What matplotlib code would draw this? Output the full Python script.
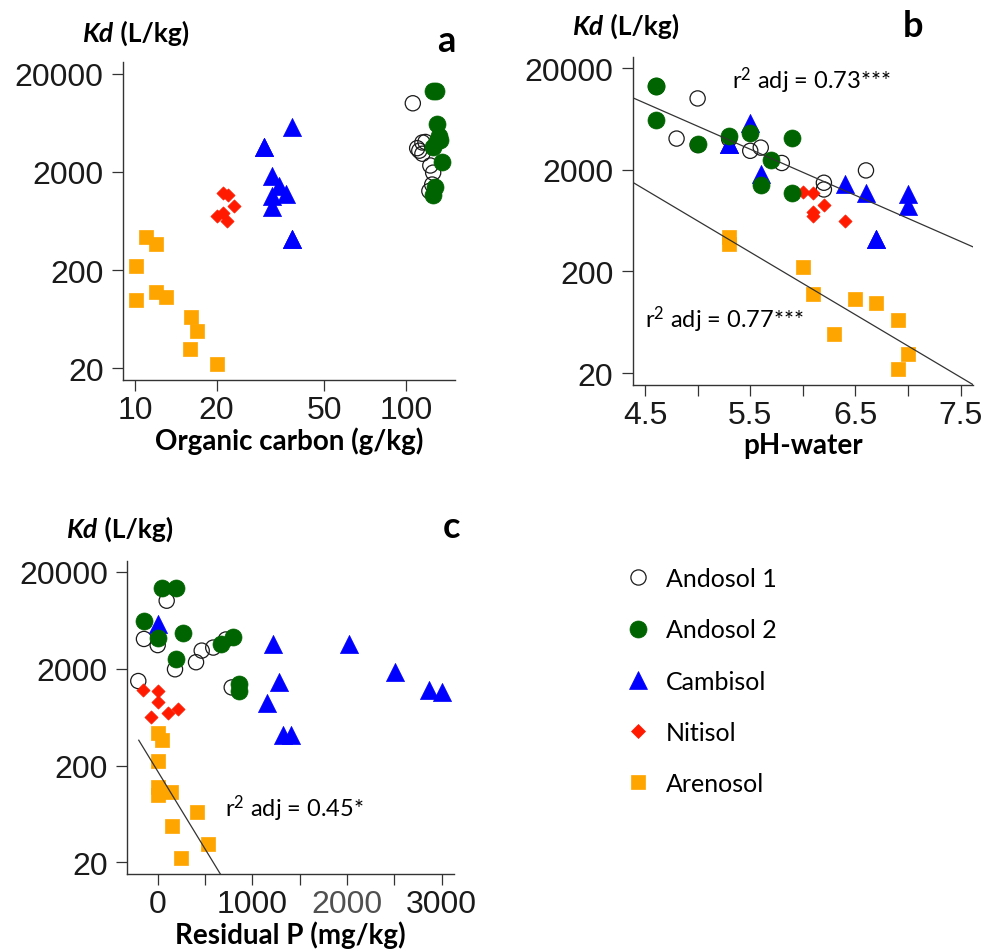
import numpy as np
import matplotlib
matplotlib.use("Agg")
import matplotlib.pyplot as plt
from matplotlib.lines import Line2D

plt.rcParams["font.family"] = ["Lato", "DejaVu Sans"]
plt.rcParams["mathtext.fontset"] = "custom"
plt.rcParams["mathtext.rm"] = "Lato"
plt.rcParams["mathtext.it"] = "Lato:italic"
plt.rcParams["mathtext.bf"] = "Lato:bold"

# --- data ---------------------------------------------------------------
soils = ["Andosol 1", "Andosol 2", "Cambisol", "Nitisol", "Arenosol"]

kd_and1 = [10050, 4050, 4000, 3500, 3300, 3070, 2330, 1970, 1490, 1280]
oc_and1 = [106, 118, 115, 110, 112, 115, 123, 126, 125, 122]
ph_and1 = [5.0, 4.8, 5.3, 5.0, 5.6, 5.5, 5.8, 6.6, 6.2, 6.2]
rp_and1 = [95, -145, 721, 0, 587, 465, 405, 183, -205, 782]

kd_and2 = [13450, 13450, 6220, 4620, 4260, 4100, 3570, 2520, 1400, 1178]
oc_and2 = [126, 129, 130, 132, 134, 130, 126, 136, 128, 126]
ph_and2 = [4.6, 4.6, 4.6, 5.5, 5.3, 5.9, 5.0, 5.7, 5.6, 5.9]
rp_and2 = [42, 193, -145, 270, 792, 0, 665, 193, 862, 862]

kd_cam = [5800, 3590, 3590, 1830, 1445, 1190, 1145, 884, 415, 415]
oc_cam = [38, 30, 30, 32, 34, 36, 32, 32, 38, 38]
ph_cam = [5.5, 5.3, 5.3, 5.6, 6.4, 6.6, 7.0, 7.0, 6.7, 6.7]
rp_cam = [0, 1215, 2024, 2507, 1285, 2866, 3006, 1158, 1327, 1405]

kd_nit = [1210, 1175, 908, 770, 705, 630]
oc_nit = [21.1, 22.1, 23.1, 21.1, 20.1, 21.9]
ph_nit = [6.0, 6.1, 6.2, 6.1, 6.1, 6.4]
rp_nit = [-158, 0, 0, 218, 112, -74]

kd_are = [432, 370, 222, 119, 107, 99, 66, 48, 31, 22]
oc_are = [11, 12, 10.1, 12, 13, 10.1, 16.1, 17, 16, 20]
ph_are = [5.3, 5.3, 6.0, 6.1, 6.5, 6.7, 6.9, 6.3, 7.0, 6.9]
rp_are = [0, 42, 0, 0, 137, 0, 412, 148, 535, 246]

r2_text = {"b_up": "0.73***", "b_low": "0.77***", "c": "0.45*"}

kd_ticks = [20, 200, 2000, 20000]

# --- styles ----------------------------------------------------------------
styles = {
    "Andosol 1": dict(marker="o", s=120, facecolors="none", edgecolors="#1a1a1a", linewidths=0.9),
    "Andosol 2": dict(marker="o", s=150, facecolors="#006400", edgecolors="#006400", linewidths=0.5),
    "Cambisol": dict(marker="^", s=170, facecolors="#0000ff", edgecolors="#0000ff", linewidths=0.5),
    "Nitisol": dict(marker="D", s=45, facecolors="#ff1a00", edgecolors="#ff1a00", linewidths=0.5),
    "Arenosol": dict(marker="s", s=90, facecolors="#ffa500", edgecolors="#ffa500", linewidths=0.5),
}
draw_order = ["Andosol 1", "Cambisol", "Nitisol", "Arenosol", "Andosol 2"]
tick_font = dict(fontfamily="Liberation Sans", fontsize=23, color="#1a1a1a")

W, H = 987, 953
fig = plt.figure(figsize=(W / 100, H / 100), dpi=100)


def fx(px):
    return px / W


def fy(py):
    return 1 - py / H


def axes_px(left, top, right, bottom):
    return fig.add_axes([fx(left), fy(bottom), (right - left) / W, (bottom - top) / H])


def style_axes(ax, ylim):
    ax.set_yscale("log")
    ax.set_ylim(*ylim)
    ax.set_yticks(kd_ticks, [str(t) for t in kd_ticks], **tick_font)
    ax.yaxis.set_minor_locator(plt.NullLocator())
    for s in ["top", "right"]:
        ax.spines[s].set_visible(False)
    for s in ["left", "bottom"]:
        ax.spines[s].set_color("#333333")
        ax.spines[s].set_linewidth(1.0)
    ax.tick_params(axis="both", which="both", direction="out", length=8,
                   width=0.9, color="#333333")
    ax.tick_params(axis="y", pad=6)
    ax.tick_params(axis="x", pad=3)


def kd_label(x, y):
    t = fig.text(fx(x), fy(y), "Kd", fontsize=19, fontweight="bold",
                 fontstyle="italic", va="baseline", ha="left")
    fig.add_artist(plt.Annotation(" (L/kg)", xy=(1, 0), xycoords=t,
                                  va="bottom", ha="left", fontsize=19,
                                  fontweight="bold"))


data = {
    "Andosol 1": (kd_and1, oc_and1, ph_and1, rp_and1),
    "Andosol 2": (kd_and2, oc_and2, ph_and2, rp_and2),
    "Cambisol": (kd_cam, oc_cam, ph_cam, rp_cam),
    "Nitisol": (kd_nit, oc_nit, ph_nit, rp_nit),
    "Arenosol": (kd_are, oc_are, ph_are, rp_are),
}

# --- panel a ---------------------------------------------------------------
ax_a = axes_px(123, 63, 455, 381)
for name in draw_order:
    kd, oc, ph, rp = data[name]
    ax_a.scatter(oc, kd, zorder=3, **styles[name])
ax_a.set_xscale("log")
style_axes(ax_a, (15.1, 26500))
ax_a.set_xlim(9.03, 151.7)
ax_a.set_xticks([10, 20, 50, 100], ["10", "20", "50", "100"], **tick_font)
ax_a.xaxis.set_minor_locator(plt.NullLocator())
ax_a.set_xlabel("Organic carbon (g/kg)", fontsize=20, fontweight="bold", labelpad=1)

# --- panel b ---------------------------------------------------------------
ax_b = axes_px(632.7, 58.3, 973.3, 386)
for name in draw_order:
    kd, oc, ph, rp = data[name]
    ax_b.scatter(ph, kd, zorder=3, **styles[name])
style_axes(ax_b, (15.3, 25500))
ax_b.set_xlim(4.383, 7.62)
ph_ticks = [4.5, 5.0, 5.5, 6.0, 6.5, 7.0, 7.5]
ax_b.set_xticks(ph_ticks, ["4.5", "", "5.5", "", "6.5", "", "7.5"], **tick_font)
ax_b.set_xlabel("pH-water", fontsize=20, fontweight="bold", labelpad=1)

# regression lines (log10 Kd vs pH)
xs = np.linspace(*ax_b.get_xlim(), 50)
up_x = np.concatenate([ph_and1, ph_and2, ph_cam])
up_y = np.log10(np.concatenate([kd_and1, kd_and2, kd_cam]))
k, c0 = np.polyfit(up_x, up_y, 1)
ax_b.plot(xs, 10 ** (k * xs + c0), color="#333333", lw=0.9, zorder=4)
k, c0 = np.polyfit(ph_are, np.log10(kd_are), 1)
ax_b.plot(xs, 10 ** (k * xs + c0), color="#333333", lw=0.9, zorder=4)

# --- panel c ---------------------------------------------------------------
ax_c = axes_px(127.3, 561.7, 454, 875)
for name in draw_order:
    kd, oc, ph, rp = data[name]
    ax_c.scatter(rp, kd, zorder=3, **styles[name])
style_axes(ax_c, (15.2, 26000))
ax_c.set_xlim(-321, 3130)
ax_c.set_xticks([0, 500, 1000, 1500, 2000, 2500, 3000],
                ["0", "", "1000", "", "2000", "", "3000"], **tick_font)
ax_c.get_xticklabels()[4].set_color("#505050")
ax_c.set_xlabel("Residual P (mg/kg)", fontsize=20, fontweight="bold", labelpad=1)
xs = np.linspace(-200, 800, 50)
k, c0 = np.polyfit(rp_are, np.log10(kd_are), 1)
ax_c.plot(xs, 10 ** (k * xs + c0), color="#333333", lw=0.9, zorder=4)

# --- labels ------------------------------------------------------------------
kd_label(83, 42)
kd_label(573, 35)
kd_label(67, 538)
for letter, x, y in [("a", 446, 52), ("b", 913, 37), ("c", 452, 538)]:
    fig.text(fx(x), fy(y), letter, fontsize=26, fontweight="bold",
             ha="center", va="baseline")

fig.text(fx(732), fy(89), "r$^2$ adj = " + r2_text["b_up"], fontsize=17, va="baseline")
fig.text(fx(645), fy(328), "r$^2$ adj = " + r2_text["b_low"], fontsize=17, va="baseline")
fig.text(fx(225), fy(817), "r$^2$ adj = " + r2_text["c"], fontsize=17, va="baseline")

# --- legend -----------------------------------------------------------------
handles = []
for name in soils:
    st = styles[name]
    handles.append(Line2D([], [], linestyle="none", marker=st["marker"],
                          markersize=np.sqrt(st["s"]),
                          markerfacecolor=st["facecolors"],
                          markeredgecolor=st["edgecolors"],
                          markeredgewidth=st["linewidths"], label=name))
fig.legend(handles=handles, loc="upper left", bbox_to_anchor=(fx(625.5), fy(568)),
           frameon=False, fontsize=18, handlelength=1.0, handletextpad=0.6,
           labelspacing=1.13, borderpad=0, borderaxespad=0)

fig.savefig("out.png", dpi=100)
